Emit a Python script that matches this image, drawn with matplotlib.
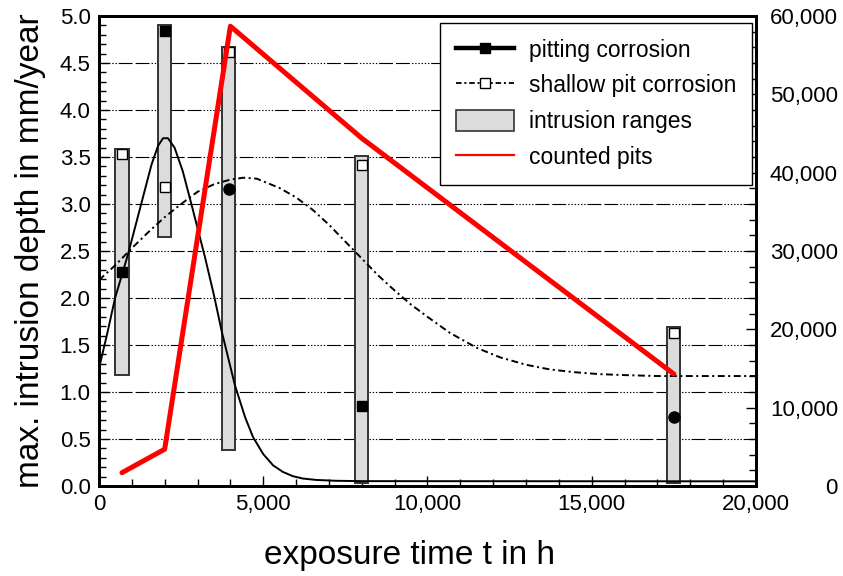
import matplotlib
matplotlib.use("Agg")
import matplotlib.pyplot as plt
import matplotlib.ticker as mticker
from matplotlib.lines import Line2D
from matplotlib.patches import Patch
import numpy as np

plt.rcParams['font.family'] = ['Liberation Sans', 'DejaVu Sans']
plt.rcParams['lines.scale_dashes'] = False

# pitting corrosion curve
time_pit = [0, 250, 490, 880, 1300, 1600, 1800, 1950, 2100, 2300, 2550, 2850, 3230,
            3500, 3740, 4140, 4450, 4690, 5000, 5300, 5600, 5900, 6200, 6600,
            7200, 8000, 20000]
depth_pit = [1.25, 1.62, 2.0, 2.46, 3.02, 3.42, 3.62, 3.70, 3.70, 3.60, 3.35, 2.95, 2.43,
             2.03, 1.64, 1.07, 0.73, 0.52, 0.34, 0.22, 0.15, 0.105, 0.08, 0.065,
             0.056, 0.052, 0.05]

# shallow pit corrosion curve
time_shallow = [0, 500, 1000, 1500, 2000, 2500, 3000, 3500, 4000, 4400, 4800, 5500,
                6000, 6500, 7000, 7500, 8000, 8500, 9000, 9500, 10000, 10680,
                11500, 12200, 13000, 13730, 14500, 15250, 16000, 17000, 20000]
depth_shallow = [2.19, 2.35, 2.53, 2.70, 2.86, 3.00, 3.13, 3.21, 3.26, 3.28, 3.27, 3.17,
                 3.07, 2.94, 2.78, 2.60, 2.42, 2.24, 2.08, 1.93, 1.80, 1.63,
                 1.47, 1.37, 1.29, 1.24, 1.21, 1.19, 1.18, 1.17, 1.17]

# intrusion ranges
bar_t = [700, 2000, 3950, 8000, 17500]
bar_lo = [1.18, 2.65, 0.38, 0.03, 0.03]
bar_hi = [3.59, 4.90, 4.67, 3.51, 1.69]
pit_pts = [2.28, 4.84, 3.16, 0.85, 0.73]
shallow_pts = [3.53, 3.18, 4.62, 3.41, 1.63]

# counted pits (right axis)
pits_t = [700, 2000, 4000, 8000, 17500]
pits_n = [1700, 4700, 58700, 44400, 14300]

fig = plt.figure(figsize=(8.43, 5.76), dpi=100)
ax = fig.add_axes([0.1174, 0.1562, 0.7794, 0.8160])

grid_dash = (0, (1, 1.3, 1, 1.3, 1, 1.3, 1, 1.3, 1, 1.3, 1, 1.3, 10, 2.2, 10, 1.5))
for yv in np.arange(0.5, 5.0, 0.5):
    ax.axhline(yv, color='black', lw=0.8, linestyle=grid_dash, zorder=1)

ax.bar(bar_t, np.array(bar_hi) - np.array(bar_lo), bottom=bar_lo, width=400,
       color='#dcdcdc', edgecolor='#333333', linewidth=1.4, zorder=2)

ax.plot(time_pit, depth_pit, color='black', lw=1.4, zorder=3)
ax.plot(time_shallow, depth_shallow, color='black', lw=1.4,
        linestyle=(0, (5, 2.5, 1.5, 2.5)), zorder=3)

pit_marker = ['s', 's', 'o', 's', 'o']
for t, v, m in zip(bar_t, pit_pts, pit_marker):
    ax.plot(t, v, marker=m, color='black', ms=7 if m == 's' else 8, zorder=4)
ax.plot(bar_t, shallow_pts, 's', mfc='white', mec='black', mew=1.0, ms=7, zorder=4)

ax.set_xlim(0, 20000)
ax.set_ylim(0, 5.0)
ax.xaxis.set_major_locator(mticker.MultipleLocator(5000))
ax.xaxis.set_minor_locator(mticker.MultipleLocator(1000))
ax.yaxis.set_major_locator(mticker.MultipleLocator(0.5))
ax.yaxis.set_minor_locator(mticker.MultipleLocator(0.1))
ax.xaxis.set_major_formatter(mticker.FuncFormatter(lambda v, p: f"{int(v):,}"))
ax.yaxis.set_major_formatter(mticker.FormatStrFormatter('%.1f'))
ax.tick_params(which='both', direction='in', labelsize=16, width=1)
ax.tick_params(which='major', length=7, pad=6)
ax.tick_params(which='minor', length=5)
ax.tick_params(axis='x', which='both', top=False)
for s in ax.spines.values():
    s.set_linewidth(2)

ax.set_xlabel('exposure time t in h', fontsize=24, labelpad=18)
ax.xaxis.label.set_x(0.472)
ax.set_ylabel('max. intrusion depth in mm/year', fontsize=24, labelpad=10)

ax2 = ax.twinx()
ax2.plot(pits_t, pits_n, color='#ff0000', lw=3.6, solid_capstyle='round', zorder=5)
ax2.set_ylim(0, 60000)
ax2.yaxis.set_major_locator(mticker.MultipleLocator(10000))
ax2.yaxis.set_minor_locator(mticker.MultipleLocator(2000))
ax2.yaxis.set_major_formatter(mticker.FuncFormatter(lambda v, p: f"{int(v):,}"))
ax2.tick_params(which='both', direction='in', labelsize=16, width=1)
ax2.tick_params(which='major', length=7, pad=59)
ax2.tick_params(which='minor', length=5)
for lab in ax2.get_yticklabels():
    lab.set_horizontalalignment('right')
for s in ax2.spines.values():
    s.set_linewidth(2)

handles = [
    Line2D([], [], color='black', lw=3.2, marker='s', ms=7),
    Line2D([], [], color='black', lw=1.3, linestyle=(0, (4, 2, 1.5, 2)),
           marker='s', mfc='white', mec='black', ms=7),
    Patch(facecolor='#dcdcdc', edgecolor='#333333', linewidth=1.2),
    Line2D([], [], color='#ff0000', lw=1.6),
]
labels = ['pitting corrosion', 'shallow pit corrosion', 'intrusion ranges', 'counted pits']
leg = ax2.legend(handles, labels, loc='upper right', fontsize=16.5, frameon=True,
                 fancybox=False, edgecolor='black', framealpha=1, handlelength=2.5,
                 handleheight=1.0, labelspacing=0.55, borderpad=0.7, borderaxespad=0,
                 bbox_to_anchor=(0.994, 0.986), handletextpad=0.65)
leg.get_frame().set_linewidth(1.0)

fig.savefig('out.png', dpi=100)
